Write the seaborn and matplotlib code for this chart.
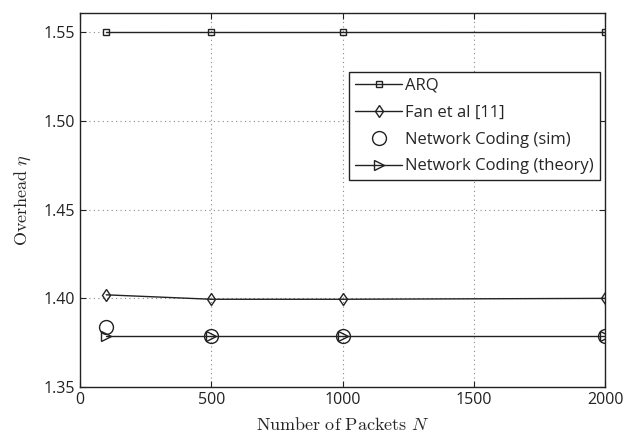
import matplotlib
matplotlib.use("Agg")
import matplotlib.pyplot as plt
import seaborn as sns
import pandas as pd

N = [100, 500, 1000, 2000]
arq = [1.5505, 1.5505, 1.5505, 1.5505]
fan = [1.402, 1.3995, 1.3995, 1.400]
nc_sim = [1.384, 1.379, 1.3785, 1.3785]
nc_theory = [1.3785, 1.3785, 1.3785, 1.3785]

xticks = [0, 500, 1000, 1500, 2000]
yticks = [1.35, 1.40, 1.45, 1.50, 1.55]

sns.set_theme(style="ticks")
plt.rcParams['font.family'] = ['Open Sans', 'DejaVu Sans']
plt.rcParams['mathtext.fontset'] = 'cm'

fig = plt.figure(figsize=(6.25, 4.41), dpi=100)
ax = fig.add_axes([80/625, 1 - 387/441, (605-80)/625, (387-13)/441])

col = '#222222'
sns.lineplot(x=N, y=arq, ax=ax, color=col, marker='s', markersize=5, markerfacecolor='none',
             markeredgecolor=col, markeredgewidth=1, linewidth=1, label='ARQ')
sns.lineplot(x=N, y=fan, ax=ax, color=col, marker='d', markersize=6, markerfacecolor='none',
             markeredgecolor=col, markeredgewidth=1, linewidth=1, label='Fan et al [11]')
sns.lineplot(x=N, y=nc_sim, ax=ax, color=col, marker='o', markersize=10, markerfacecolor='none',
             markeredgecolor=col, markeredgewidth=1, linestyle='', label='Network Coding (sim)')
sns.lineplot(x=N, y=nc_theory, ax=ax, color=col, marker='>', markersize=7, markerfacecolor='none',
             markeredgecolor=col, markeredgewidth=1, linewidth=1, label='Network Coding (theory)')

ax.set_xlim(0, 2000)
ax.set_ylim(1.35, 1.561)
ax.set_xticks(xticks)
ax.set_xticklabels([str(t) for t in xticks])
ax.set_yticks(yticks)
ax.set_yticklabels([f"{t:.2f}" for t in yticks])
ax.grid(True, linestyle=(0, (1, 3)), color='#888888', linewidth=0.8)
ax.tick_params(direction='in', length=4, labelsize=11.5, colors='#222222', width=0.8)
ax.tick_params(top=True, right=True)
for s in ax.spines.values():
    s.set_color('#222222')
    s.set_linewidth(1.0)

ax.set_xlabel(r'$\mathrm{Number\ of\ Packets}\ N$', fontsize=13, labelpad=6)
ax.set_ylabel(r'$\mathrm{Overhead}\ \eta$', fontsize=13, labelpad=8)

leg = ax.legend(loc='upper right', bbox_to_anchor=(0.99, 0.842), fontsize=12, frameon=True,
                fancybox=False, edgecolor='#222222', framealpha=1, handlelength=2.8,
                handletextpad=0.2, borderpad=0.35, labelspacing=0.65, borderaxespad=0)
leg.get_frame().set_linewidth(1.0)

fig.savefig('out.png', dpi=100)
